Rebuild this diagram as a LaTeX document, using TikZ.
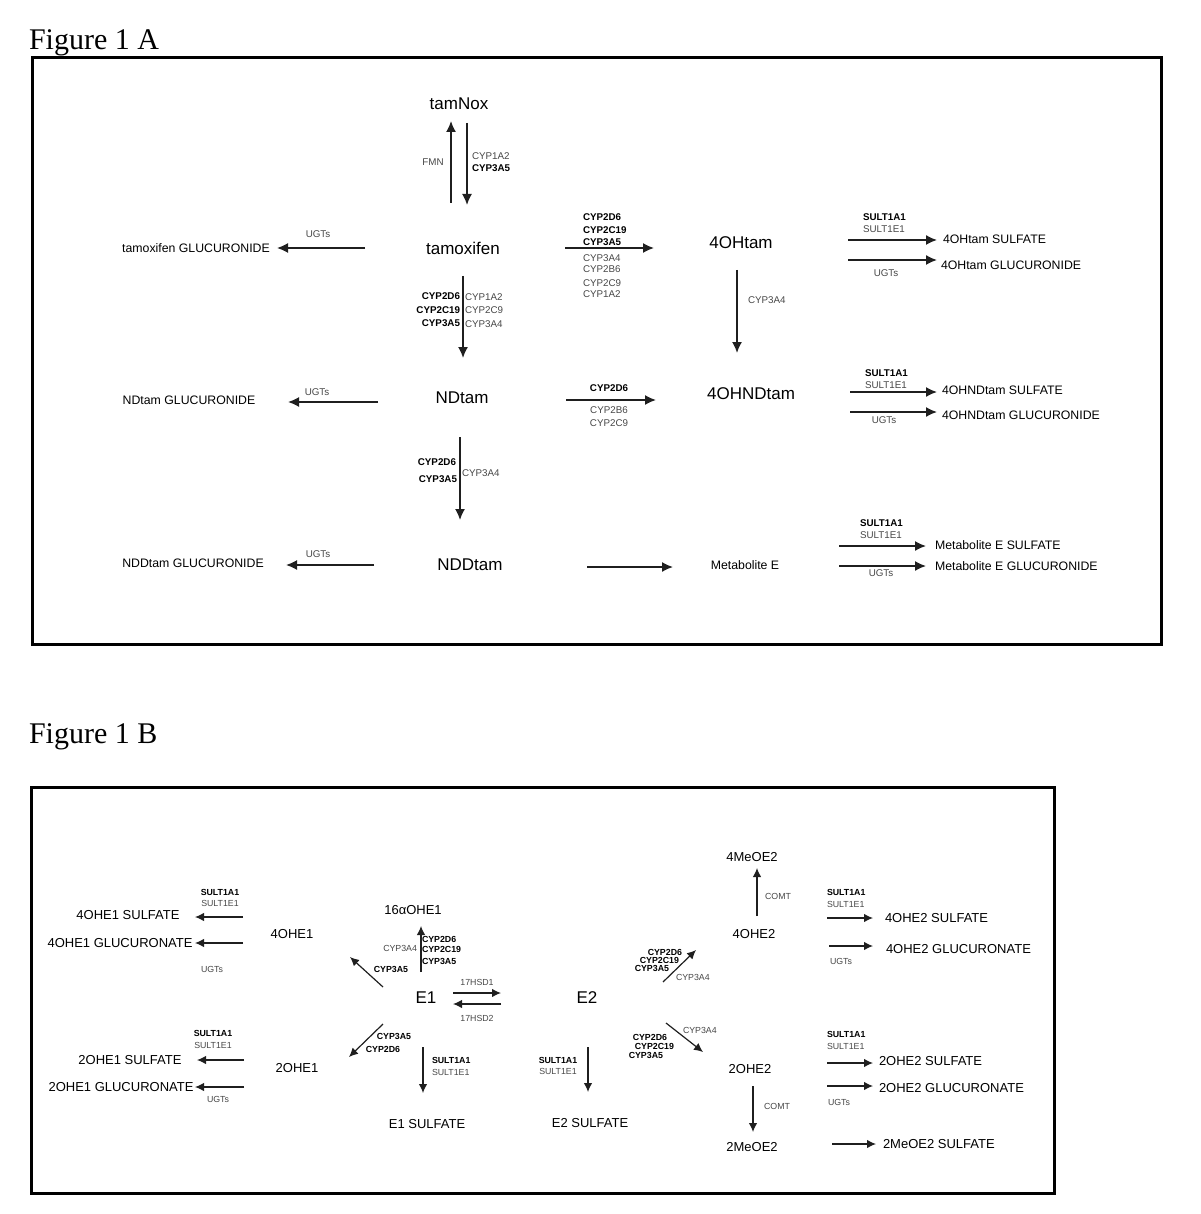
\documentclass[tikz,border=0pt]{standalone}
\usepackage{fontspec}
\setmainfont{Liberation Sans}
\newfontfamily\titlefont{Liberation Serif}
\usetikzlibrary{arrows.meta}
\definecolor{enzgray}{gray}{0.28}
\definecolor{linegray}{gray}{0.12}
\tikzset{
 every node/.style={inner sep=0pt, outer sep=0pt},
 mainA/.style={font=\fontsize{17}{20}\selectfont},
 prodA/.style={font=\fontsize{12.3}{14}\selectfont},
 enzA/.style={font=\fontsize{9.8}{11}\selectfont, text=enzgray},
 enzAb/.style={font=\fontsize{9.8}{11}\selectfont\bfseries},
 prodB/.style={font=\fontsize{13}{15}\selectfont},
 mainB/.style={font=\fontsize{17}{20}\selectfont},
 enzB/.style={font=\fontsize{8.8}{10}\selectfont, text=enzgray},
 enzBb/.style={font=\fontsize{8.8}{10}\selectfont\bfseries},
 arrA/.style={draw=linegray, line width=1.6pt, -{Latex[length=11pt,width=10pt]}},
 arrB/.style={draw=linegray, line width=1.2pt, -{Latex[length=9pt,width=8.5pt]}},
 panel/.style={draw=black, line width=3pt},
 figtitle/.style={font=\titlefont\fontsize{30}{34}\selectfont, anchor=base west},
}
\begin{document}
\begin{tikzpicture}[x=1pt,y=-1pt]
\useasboundingbox (0,0) rectangle (1200,1214);

% ---------------- Figure 1 A ----------------
\node[figtitle] (titA) at (29,50) {Figure 1 A};
\draw[panel] (32,58) rectangle (1161,644);

\node[mainA] (tamNox) at (459,104) {tamNox};
\node[mainA] (tam) at (463,248) {tamoxifen};
\node[mainA] (OHtam) at (741,243) {4OHtam};
\node[mainA] (NDtam) at (462,398) {NDtam};
\node[mainA] (OHNDtam) at (751,394) {4OHNDtam};
\node[mainA] (NDDtam) at (470,565) {NDDtam};
\node[prodA] (metE) at (745,565) {Metabolite E};

\node[prodA] (tamG) at (196,248) {tamoxifen GLUCURONIDE};
\node[prodA] (NDtamG) at (189,400) {NDtam GLUCURONIDE};
\node[prodA] (NDDtamG) at (193,563) {NDDtam GLUCURONIDE};
\node[prodA,anchor=west] (OHtamS) at (943,239) {4OHtam SULFATE};
\node[prodA,anchor=west] (OHtamG) at (941,265) {4OHtam GLUCURONIDE};
\node[prodA,anchor=west] (OHNDtamS) at (942,390) {4OHNDtam SULFATE};
\node[prodA,anchor=west] (OHNDtamG) at (942,415) {4OHNDtam GLUCURONIDE};
\node[prodA,anchor=west] (metES) at (935,545) {Metabolite E SULFATE};
\node[prodA,anchor=west] (metEG) at (935,566) {Metabolite E GLUCURONIDE};

% arrow end points
\coordinate (a1s) at (451,203); \coordinate (a1e) at (451,121);
\coordinate (a2s) at (467,123); \coordinate (a2e) at (467,205);
\coordinate (a3s) at (365,248); \coordinate (a3e) at (277,248);
\coordinate (a4s) at (565,248); \coordinate (a4e) at (654,248);
\coordinate (a5s) at (737,270); \coordinate (a5e) at (737,353);
\coordinate (a6s) at (848,240); \coordinate (a6e) at (937,240);
\coordinate (a7s) at (848,260); \coordinate (a7e) at (937,260);
\coordinate (a8s) at (463,276); \coordinate (a8e) at (463,358);
\coordinate (a9s) at (378,402); \coordinate (a9e) at (288,402);
\coordinate (a10s) at (566,400); \coordinate (a10e) at (656,400);
\coordinate (a11s) at (850,392); \coordinate (a11e) at (937,392);
\coordinate (a12s) at (850,412); \coordinate (a12e) at (937,412);
\coordinate (a13s) at (460,437); \coordinate (a13e) at (460,520);
\coordinate (a14s) at (374,565); \coordinate (a14e) at (286,565);
\coordinate (a15s) at (587,567); \coordinate (a15e) at (673,567);
\coordinate (a16s) at (839,546); \coordinate (a16e) at (926,546);
\coordinate (a17s) at (839,566); \coordinate (a17e) at (926,566);

\foreach \i in {1,...,17} {\draw[arrA] (a\i s) -- (a\i e);}

% enzyme labels A
\node[enzA] (lFMN) at (433,162) {FMN};
\node[enzA,anchor=west] (l2a) at (472,156) {CYP1A2};
\node[enzAb,anchor=west] (l2b) at (472,168) {CYP3A5};
\node[enzA] (l3) at (318,234) {UGTs};
\node[enzAb,anchor=west] (l4a) at (583,217) {CYP2D6};
\node[enzAb,anchor=west] (l4b) at (583,230) {CYP2C19};
\node[enzAb,anchor=west] (l4c) at (583,242) {CYP3A5};
\node[enzA,anchor=west] (l4d) at (583,258) {CYP3A4};
\node[enzA,anchor=west] (l4e) at (583,269) {CYP2B6};
\node[enzA,anchor=west] (l4f) at (583,283) {CYP2C9};
\node[enzA,anchor=west] (l4g) at (583,294) {CYP1A2};
\node[enzA,anchor=west] (l5) at (748,300) {CYP3A4};
\node[enzAb,anchor=west] (l6a) at (863,217) {SULT1A1};
\node[enzA,anchor=west] (l6b) at (863,229) {SULT1E1};
\node[enzA] (l7) at (886,273) {UGTs};
\node[enzAb,anchor=east] (l8a) at (460,296) {CYP2D6};
\node[enzAb,anchor=east] (l8b) at (460,310) {CYP2C19};
\node[enzAb,anchor=east] (l8c) at (460,323) {CYP3A5};
\node[enzA,anchor=west] (l8d) at (465,297) {CYP1A2};
\node[enzA,anchor=west] (l8e) at (465,310) {CYP2C9};
\node[enzA,anchor=west] (l8f) at (465,324) {CYP3A4};
\node[enzA] (l9) at (317,392) {UGTs};
\node[enzAb] (l10a) at (609,388) {CYP2D6};
\node[enzA] (l10b) at (609,410) {CYP2B6};
\node[enzA] (l10c) at (609,423) {CYP2C9};
\node[enzAb,anchor=west] (l11a) at (865,373) {SULT1A1};
\node[enzA,anchor=west] (l11b) at (865,385) {SULT1E1};
\node[enzA] (l12) at (884,420) {UGTs};
\node[enzAb,anchor=east] (l13a) at (456,462) {CYP2D6};
\node[enzAb,anchor=east] (l13b) at (457,479) {CYP3A5};
\node[enzA,anchor=west] (l13c) at (462,473) {CYP3A4};
\node[enzA] (l14) at (318,554) {UGTs};
\node[enzAb,anchor=west] (l16a) at (860,523) {SULT1A1};
\node[enzA,anchor=west] (l16b) at (860,535) {SULT1E1};
\node[enzA] (l17) at (881,573) {UGTs};

% ---------------- Figure 1 B ----------------
\node[figtitle] (titB) at (29,743) {Figure 1 B};
\draw[panel] (31,787) rectangle (1054,1193);

\node[mainB] (E1) at (426,998) {E1};
\node[mainB] (E2) at (587,998) {E2};
\node[prodB] (MeOE4) at (752,857) {4MeOE2};
\node[prodB] (OHE42) at (754,934) {4OHE2};
\node[prodB] (OHE16) at (413,910) {16αOHE1};
\node[prodB] (OHE41) at (292,934) {4OHE1};
\node[prodB] (OHE21) at (297,1068) {2OHE1};
\node[prodB] (OHE22) at (750,1069) {2OHE2};
\node[prodB] (MeOE2) at (752,1147) {2MeOE2};
\node[prodB] (E1S) at (427,1124) {E1 SULFATE};
\node[prodB] (E2S) at (590,1123) {E2 SULFATE};
\node[prodB] (OHE41S) at (128,915) {4OHE1 SULFATE};
\node[prodB] (OHE41G) at (120,943) {4OHE1 GLUCURONATE};
\node[prodB] (OHE21S) at (130,1060) {2OHE1 SULFATE};
\node[prodB] (OHE21G) at (121,1087) {2OHE1 GLUCURONATE};
\node[prodB,anchor=west] (OHE42S) at (885,918) {4OHE2 SULFATE};
\node[prodB,anchor=west] (OHE42G) at (886,949) {4OHE2 GLUCURONATE};
\node[prodB,anchor=west] (OHE22S) at (879,1061) {2OHE2 SULFATE};
\node[prodB,anchor=west] (OHE22G) at (879,1088) {2OHE2 GLUCURONATE};
\node[prodB,anchor=west] (MeOE2S) at (883,1144) {2MeOE2 SULFATE};

\coordinate (b1s) at (757,916); \coordinate (b1e) at (757,868);
\coordinate (b2s) at (753,1086); \coordinate (b2e) at (753,1132);
\coordinate (b3s) at (827,918); \coordinate (b3e) at (873,918);
\coordinate (b4s) at (829,946); \coordinate (b4e) at (873,946);
\coordinate (b5s) at (827,1063); \coordinate (b5e) at (873,1063);
\coordinate (b6s) at (827,1086); \coordinate (b6e) at (873,1086);
\coordinate (b7s) at (832,1144); \coordinate (b7e) at (876,1144);
\coordinate (b8s) at (663,982); \coordinate (b8e) at (696,950);
\coordinate (b9s) at (666,1023); \coordinate (b9e) at (703,1052);
\coordinate (b10s) at (588,1047); \coordinate (b10e) at (588,1092);
\coordinate (b11s) at (423,1047); \coordinate (b11e) at (423,1093);
\coordinate (b12s) at (383,1024); \coordinate (b12e) at (349,1057);
\coordinate (b13s) at (383,987); \coordinate (b13e) at (350,957);
\coordinate (b14s) at (421,972); \coordinate (b14e) at (421,926);
\coordinate (b15s) at (453,993); \coordinate (b15e) at (501,993);
\coordinate (b16s) at (501,1004); \coordinate (b16e) at (453,1004);
\coordinate (b17s) at (243,917); \coordinate (b17e) at (195,917);
\coordinate (b18s) at (243,943); \coordinate (b18e) at (195,943);
\coordinate (b19s) at (244,1060); \coordinate (b19e) at (197,1060);
\coordinate (b20s) at (244,1087); \coordinate (b20e) at (195,1087);

\foreach \i in {1,...,20} {\draw[arrB] (b\i s) -- (b\i e);}

% enzyme labels B
\node[enzB] (m1) at (778,896) {COMT};
\node[enzB] (m2) at (777,1106) {COMT};
\node[enzBb,anchor=west] (m3a) at (827,892) {SULT1A1};
\node[enzB,anchor=west] (m3b) at (827,904) {SULT1E1};
\node[enzB,anchor=west] (m4) at (830,961) {UGTs};
\node[enzBb,anchor=west] (m5a) at (827,1034) {SULT1A1};
\node[enzB,anchor=west] (m5b) at (827,1046) {SULT1E1};
\node[enzB,anchor=west] (m6) at (828,1102) {UGTs};
\node[enzBb,anchor=east] (m8a) at (682,952) {CYP2D6};
\node[enzBb,anchor=east] (m8b) at (679,960) {CYP2C19};
\node[enzBb,anchor=east] (m8c) at (669,968) {CYP3A5};
\node[enzB,anchor=west] (m8d) at (676,977) {CYP3A4};
\node[enzB,anchor=west] (m9a) at (683,1030) {CYP3A4};
\node[enzBb,anchor=east] (m9b) at (667,1037) {CYP2D6};
\node[enzBb,anchor=east] (m9c) at (674,1046) {CYP2C19};
\node[enzBb,anchor=east] (m9d) at (663,1055) {CYP3A5};
\node[enzBb] (m10a) at (558,1060) {SULT1A1};
\node[enzB] (m10b) at (558,1071) {SULT1E1};
\node[enzBb,anchor=west] (m11a) at (432,1060) {SULT1A1};
\node[enzB,anchor=west] (m11b) at (432,1072) {SULT1E1};
\node[enzBb] (m12a) at (394,1036) {CYP3A5};
\node[enzBb] (m12b) at (383,1049) {CYP2D6};
\node[enzBb] (m13) at (391,969) {CYP3A5};
\node[enzB,anchor=east] (m14a) at (417,948) {CYP3A4};
\node[enzBb,anchor=west] (m14b) at (422,939) {CYP2D6};
\node[enzBb,anchor=west] (m14c) at (422,949) {CYP2C19};
\node[enzBb,anchor=west] (m14d) at (422,961) {CYP3A5};
\node[enzB] (m15) at (477,982) {17HSD1};
\node[enzB] (m16) at (477,1018) {17HSD2};
\node[enzBb] (m17a) at (220,892) {SULT1A1};
\node[enzB] (m17b) at (220,903) {SULT1E1};
\node[enzB] (m18) at (212,969) {UGTs};
\node[enzBb] (m19a) at (213,1033) {SULT1A1};
\node[enzB] (m19b) at (213,1045) {SULT1E1};
\node[enzB] (m20) at (218,1099) {UGTs};
\end{tikzpicture}
\end{document}
